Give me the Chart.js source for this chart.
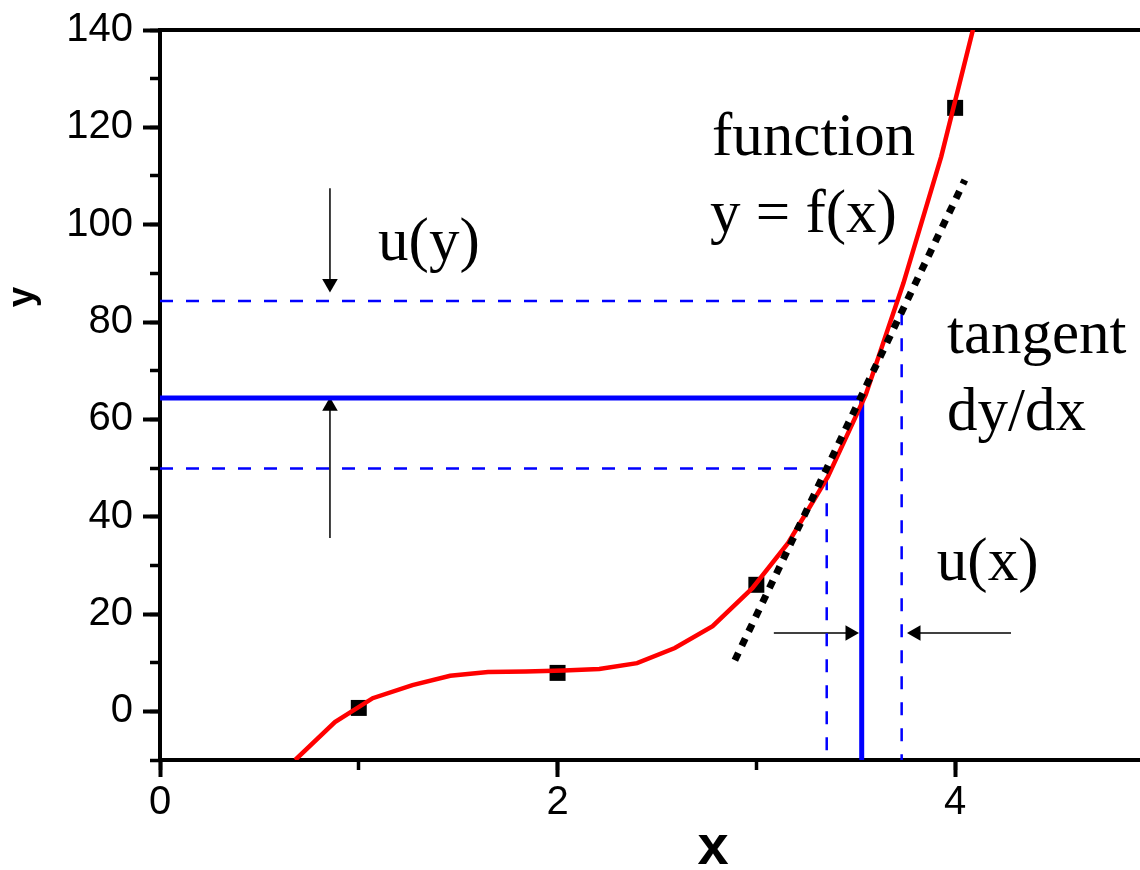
<!DOCTYPE html>
<html>
<head>
<meta charset="utf-8">
<title>Uncertainty propagation through y = f(x)</title>
<script src="https://cdn.jsdelivr.net/npm/chart.js@4"></script>
<style>
  html, body { margin: 0; padding: 0; background: #fff; }
  canvas { display: block; }
</style>
</head>
<body>
<canvas id="chart" width="1140" height="870"></canvas>
<script>
// ======= DATA =======
const fitX = [0.68, 0.88, 1.07, 1.27, 1.46, 1.65, 1.84, 2.03, 2.21, 2.40, 2.59, 2.78, 2.98, 3.16, 3.36, 3.55, 3.74, 3.93, 4.12];
const fitY = [-10, -2.2, 2.7, 5.4, 7.3, 8.1, 8.2, 8.4, 8.7, 9.9, 13.0, 17.5, 25.3, 34.6, 48.2, 65.0, 88.0, 114.0, 145.0];

const measX = [1, 2, 3, 4];
const measY = [0.7, 7.9, 26, 124];

const tangentX = [2.892, 4.049];
const tangentY = [10.5, 109.2];

// best estimate and its uncertainty band
const xBest = 3.53;
const yBest = 64.4;
const xLow = 3.354, xHigh = 3.731;
const yLow = 49.9, yHigh = 84.3;
const yLowEndX = 3.365, yHighEndX = 3.712;   // where the dashed horizontals stop
const xLowTopY = 48.1, xHighTopY = 82.0;     // where the dashed verticals start

// arrows
const uyArrowX = 0.855;
const uyDownY = [107.5, 87.9];
const uyUpY = [35.6, 62.7];
const uxArrowY = 16.1;
const uxRightX = [3.088, 3.471];
const uxLeftX = [4.281, 3.803];

// axes
const xMin = 0, xMax = 4.93;
const yMin = -10, yMax = 140;
const xTickLabels = [0, 2, 4];
const yTickLabels = [0, 20, 40, 60, 80, 100, 120, 140];

// text notes on the plot
const noteText = ['function', 'y = f(x)', 'tangent', 'dy/dx', 'u(x)', 'u(y)'];
const noteX = [2.777, 2.767, 3.959, 3.959, 3.908, 1.097];
const noteY = [114.3, 98.5, 73.6, 57.8, 27.0, 92.7];

// ======= HELPERS =======
function pts(xs, ys) {
  return xs.map((v, i) => ({ x: v, y: ys[i] }));
}

const BLUE = '#0000ff';
const RED = '#ff0000';
const sansFont = '"Liberation Sans", Arial, sans-serif';
const serifFont = '"Liberation Serif", "Times New Roman", serif';

function blueLine(data, dashed) {
  return {
    data: data,
    showLine: true,
    borderColor: BLUE,
    borderWidth: dashed ? 2.5 : 5,
    borderDash: dashed ? [13, 13] : [],
    pointRadius: 0,
    clip: 0,
    order: 3
  };
}

function arrow(data, rot) {
  return {
    data: data,
    showLine: true,
    borderColor: '#000',
    borderWidth: 1.5,
    pointStyle: 'triangle',
    rotation: rot,
    pointRadius: ctx => (ctx.dataIndex === 1 ? 9 : 0),
    pointBackgroundColor: '#000',
    pointBorderWidth: 0,
    order: 4
  };
}

// ======= TEXT PLUGIN =======
const notesPlugin = {
  id: 'notes',
  afterDatasetsDraw(chart) {
    const { ctx, scales } = chart;
    ctx.save();
    ctx.fillStyle = '#000';
    ctx.textAlign = 'left';
    ctx.textBaseline = 'alphabetic';
    ctx.font = '61px ' + serifFont;
    noteText.forEach((t, i) => {
      ctx.fillText(t, scales.x.getPixelForValue(noteX[i]), scales.y.getPixelForValue(noteY[i]));
    });

    // axis titles
    ctx.textAlign = 'center';
    ctx.font = 'bold 56px ' + sansFont;
    ctx.fillText('x', 713, 864);
    ctx.translate(33, 297);
    ctx.rotate(-Math.PI / 2);
    ctx.font = 'bold 37px ' + sansFont;
    ctx.fillText('y', 0, 0);
    ctx.restore();
  }
};

// ======= CHART =======
const tickFont = { family: sansFont, size: 40, lineHeight: 1 };

new Chart(document.getElementById('chart'), {
  type: 'scatter',
  data: {
    datasets: [
      {
        data: pts(tangentX, tangentY),
        showLine: true,
        borderColor: '#000',
        borderWidth: 7,
        borderDash: [8, 8],
        pointRadius: 0,
        order: 0
      },
      {
        data: pts(fitX, fitY),
        showLine: true,
        borderColor: RED,
        borderWidth: 4.5,
        pointRadius: 0,
        clip: 0,
        order: 1
      },
      {
        data: pts(measX, measY),
        showLine: false,
        pointStyle: 'rect',
        pointRadius: 11.3,
        pointBackgroundColor: '#000',
        pointBorderWidth: 0,
        order: 2
      },
      blueLine(pts([xMin, xBest, xBest], [yBest, yBest, yMin]), false),
      blueLine(pts([xMin, yHighEndX], [yHigh, yHigh]), true),
      blueLine(pts([xMin, yLowEndX], [yLow, yLow]), true),
      blueLine(pts([xHigh, xHigh], [xHighTopY, yMin]), true),
      blueLine(pts([xLow, xLow], [xLowTopY, yMin]), true),
      arrow(pts([uyArrowX, uyArrowX], uyDownY), 180),
      arrow(pts([uyArrowX, uyArrowX], uyUpY), 0),
      arrow(pts(uxRightX, [uxArrowY, uxArrowY]), 90),
      arrow(pts(uxLeftX, [uxArrowY, uxArrowY]), 270)
    ]
  },
  options: {
    responsive: false,
    animation: false,
    events: [],
    layout: { autoPadding: false, padding: { top: 30, left: 0, right: 0, bottom: 0 } },
    plugins: {
      legend: { display: false },
      tooltip: { enabled: false }
    },
    scales: {
      x: {
        type: 'linear', position: 'bottom', weight: 1,
        min: xMin, max: xMax,
        ticks: {
          stepSize: 2, includeBounds: false, autoSkip: false, maxRotation: 0,
          color: '#000', font: tickFont, padding: 6,
          callback: v => (xTickLabels.includes(v) ? String(v) : '')
        },
        grid: { drawOnChartArea: false, tickLength: 17, tickWidth: 4, tickColor: '#000' },
        border: { display: true, color: '#000', width: 4 },
        afterFit: s => { s.height = 110; s.paddingLeft = 0; s.paddingRight = 0; }
      },
      x2: {
        type: 'linear', position: 'bottom', weight: 0,
        min: xMin, max: xMax,
        ticks: { stepSize: 1, includeBounds: false, display: false },
        grid: { drawOnChartArea: false, tickLength: 10, tickWidth: 3.5, tickColor: '#000' },
        border: { display: false },
        afterFit: s => { s.height = 0; s.paddingLeft = 0; s.paddingRight = 0; }
      },
      xTop: {
        type: 'linear', position: 'top',
        min: xMin, max: xMax,
        ticks: { display: false },
        grid: { drawOnChartArea: false, drawTicks: false },
        border: { display: true, color: '#000', width: 4 },
        afterFit: s => { s.height = 0; s.paddingLeft = 0; s.paddingRight = 0; }
      },
      y: {
        type: 'linear', position: 'left', weight: 1,
        min: yMin, max: yMax,
        ticks: {
          stepSize: 20, includeBounds: false, autoSkip: false,
          color: '#000', font: tickFont, padding: 10,
          callback: v => (yTickLabels.includes(v) ? String(v) : '')
        },
        grid: { drawOnChartArea: false, tickLength: 17, tickWidth: 4, tickColor: '#000' },
        border: { display: true, color: '#000', width: 4 },
        afterFit: s => { s.width = 160; s.paddingTop = 0; s.paddingBottom = 0; }
      },
      y2: {
        type: 'linear', position: 'left', weight: 0,
        min: yMin, max: yMax,
        ticks: { stepSize: 10, includeBounds: false, display: false },
        grid: { drawOnChartArea: false, tickLength: 10, tickWidth: 3.5, tickColor: '#000' },
        border: { display: false },
        afterFit: s => { s.width = 0; s.paddingTop = 0; s.paddingBottom = 0; }
      }
    }
  },
  plugins: [notesPlugin]
});
</script>
</body>
</html>
